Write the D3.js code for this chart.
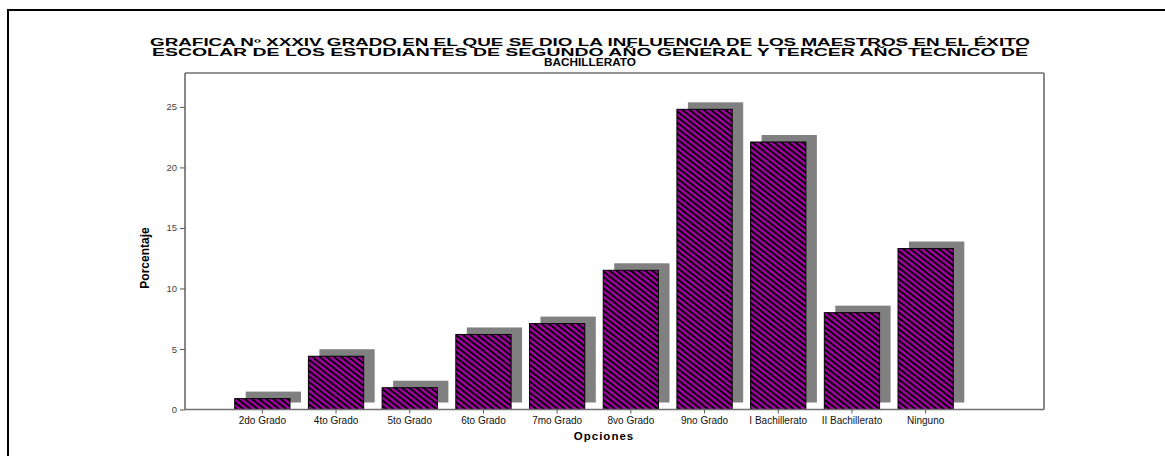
<!DOCTYPE html>
<html><head><meta charset="utf-8">
<script src="https://cdn.jsdelivr.net/npm/d3@7"></script>
<style>body{margin:0;background:#fff;} svg{display:block;}</style>
</head><body>
<script>
const categories = ["2do Grado","4to Grado","5to Grado","6to Grado","7mo Grado","8vo Grado","9no Grado","I Bachillerato","II Bachillerato","Ninguno"];
const values = [0.9, 4.4, 1.8, 6.2, 7.1, 11.5, 24.8, 22.1, 8.0, 13.3];
const yTicks = [0, 5, 10, 15, 20, 25];
const titleLines = [
  "GRAFICA Nº XXXIV GRADO EN EL QUE SE DIO LA INFLUENCIA DE LOS MAESTROS EN EL ÉXITO",
  "ESCOLAR DE LOS ESTUDIANTES DE SEGUNDO AÑO GENERAL Y TERCER AÑO TECNICO DE",
  "BACHILLERATO"
];
const xTitle = "Opciones";
const yTitle = "Porcentaje";

const W = 1165, H = 456;
const svg = d3.select("body").append("svg").attr("width", W).attr("height", H);

const defs = svg.append("defs");
const pat = defs.append("pattern").attr("id","hatch").attr("patternUnits","userSpaceOnUse")
  .attr("width", 5).attr("height", 4.4).attr("patternTransform","rotate(38)");
pat.append("rect").attr("width",5).attr("height",4.4).attr("fill","#9a009a");
pat.append("rect").attr("width",5).attr("height",1.8).attr("fill","#000");

// outer frame
svg.append("rect").attr("x",8).attr("y",10).attr("width",1200).attr("height",500)
  .attr("fill","none").attr("stroke","#000").attr("stroke-width",2);

const plot = {left:185, right:1044, top:73, bottom:409.5};
const x = d3.scaleBand().domain(categories).range([225.5, 962.5]).paddingInner(0.25).paddingOuter(0.125);
const y = d3.scaleLinear().domain([0, 27.8]).range([plot.bottom, plot.top]);

// plot frame
svg.append("line").attr("x1",plot.left).attr("x2",plot.right).attr("y1",plot.top).attr("y2",plot.top)
  .attr("stroke","#707070").attr("stroke-width",1.3);
svg.append("line").attr("x1",plot.right).attr("x2",plot.right).attr("y1",plot.top).attr("y2",plot.bottom)
  .attr("stroke","#888").attr("stroke-width",2);

const ox = 11, oy = 7;
const data = categories.map((c,i)=>({c, v: values[i]}));
svg.append("g").selectAll("rect").data(data).join("rect")
  .attr("x", d=>x(d.c)+ox).attr("y", d=>y(d.v)-oy)
  .attr("width", x.bandwidth()).attr("height", d=>y(0)-y(d.v))
  .attr("fill","#808080");
svg.append("g").selectAll("rect").data(data).join("rect")
  .attr("x", d=>x(d.c)).attr("y", d=>y(d.v))
  .attr("width", x.bandwidth()).attr("height", d=>y(0)-y(d.v))
  .attr("fill","url(#hatch)").attr("stroke","#000").attr("stroke-width",1);

// axes
const yAxis = d3.axisLeft(y).tickValues(yTicks).tickSize(5).tickPadding(3);
const gy = svg.append("g").attr("transform",`translate(${plot.left},0)`).call(yAxis);
gy.select(".domain").remove();
gy.selectAll(".tick line").attr("stroke","#555");
gy.selectAll(".tick text").attr("font-family","Liberation Sans, Arial, sans-serif").attr("font-size",9.5).attr("fill","#444");
svg.append("line").attr("x1",plot.left).attr("x2",plot.left).attr("y1",plot.top).attr("y2",plot.bottom)
  .attr("stroke","#606060").attr("stroke-width",1.5);

const xAxis = d3.axisBottom(x).tickSize(4).tickPadding(3);
const gx = svg.append("g").attr("transform",`translate(0,${plot.bottom})`).call(xAxis);
gx.select(".domain").remove();
gx.selectAll(".tick line").attr("stroke","#555");
gx.selectAll(".tick text").attr("font-family","Liberation Sans, Arial, sans-serif").attr("font-size",10).attr("fill","#111");
svg.append("line").attr("x1",plot.left).attr("x2",plot.right).attr("y1",plot.bottom).attr("y2",plot.bottom)
  .attr("stroke","#707070").attr("stroke-width",1.5);

// titles
const tl = [ [46, 880], [56, 876], [66, 92] ];
titleLines.forEach((t,i)=>{
  svg.append("text").attr("x",590).attr("y",tl[i][0]).attr("text-anchor","middle")
    .attr("font-family","Liberation Sans, Arial, sans-serif").attr("font-weight","bold").attr("font-size",10)
    .attr("textLength", tl[i][1]).attr("lengthAdjust","spacingAndGlyphs")
    .attr("fill","#000").text(t);
});
svg.append("text").attr("x",604).attr("y",440).attr("text-anchor","middle")
  .attr("font-family","Liberation Sans, Arial, sans-serif").attr("font-weight","bold").attr("font-size",11.5)
  .attr("letter-spacing",1).text(xTitle);
svg.append("text").attr("transform","translate(149,258) rotate(-90)").attr("text-anchor","middle")
  .attr("font-family","Liberation Sans Narrow, Arial Narrow, sans-serif").attr("font-weight","bold").attr("font-size",12)
  .text(yTitle);
</script>
</body></html>
